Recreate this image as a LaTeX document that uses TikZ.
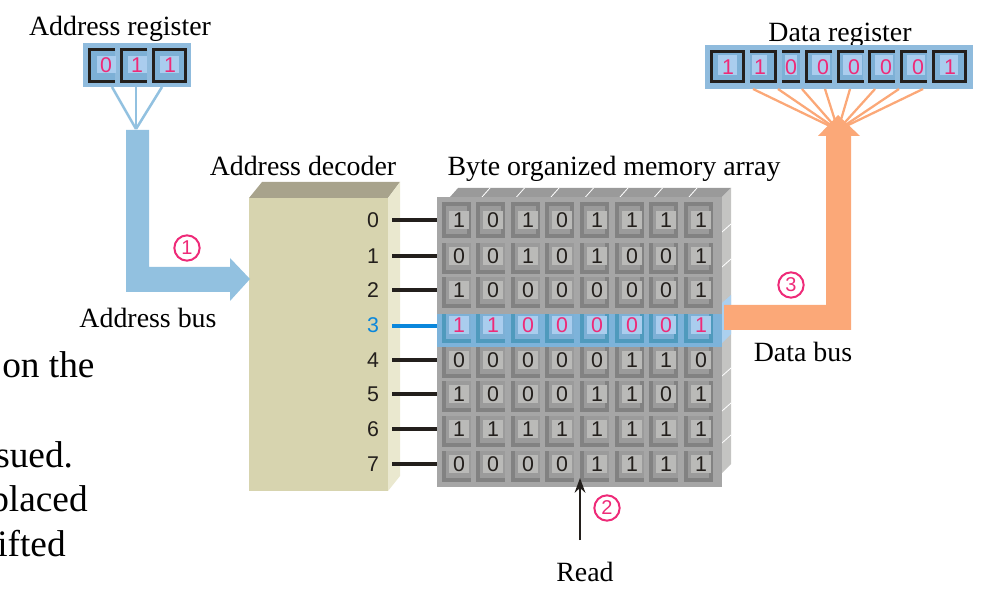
\documentclass[tikz,border=0pt]{standalone}
\usepackage{fontspec}
\setmainfont{Liberation Serif}
\newfontfamily\digitfont{Liberation Sans}
\usetikzlibrary{arrows.meta}
\definecolor{busblue}{HTML}{92C1E0}
\definecolor{regblue}{HTML}{8FBBDD}
\definecolor{regring}{HTML}{7DB0D6}
\definecolor{regcore}{HTML}{AACDEE}
\definecolor{busorange}{HTML}{FBA878}
\definecolor{pinkmark}{HTML}{EE2A78}
\definecolor{decfront}{HTML}{D7D4AF}
\definecolor{dectop}{HTML}{A8A38C}
\definecolor{decside}{HTML}{EAE8CF}
\definecolor{gridbase}{HTML}{A6A6A6}
\definecolor{griddark}{HTML}{828282}
\definecolor{gridring}{HTML}{9B9B9B}
\definecolor{gridcore}{HTML}{BABAB8}
\definecolor{gridside}{HTML}{C4C4C2}
\definecolor{gridtop}{HTML}{9A9A9A}
\definecolor{rowblue}{HTML}{7DB3DA}
\definecolor{rowdark}{HTML}{4F9ABD}
\definecolor{sideblue}{HTML}{ABD0EF}
\definecolor{inkblack}{HTML}{231F1C}
\definecolor{wireblue}{HTML}{0A87DC}
\tikzset{
  caption/.style={font=\fontsize{20.9pt}{24pt}\selectfont,text=black,inner sep=0pt,anchor=base},
  bodytext/.style={font=\fontsize{28pt}{32pt}\selectfont,text=black,inner sep=0pt,anchor=base west},
  bit/.style={font=\digitfont\fontsize{16pt}{18pt}\selectfont,text=inkblack,inner sep=0pt},
  hotbit/.style={bit,text=pinkmark},
  rowlabel/.style={font=\digitfont\fontsize{16pt}{18pt}\selectfont,text=inkblack,inner sep=0pt},
  wire/.style={draw=inkblack,line width=2.6pt},
  stepmark/.style={circle,draw=pinkmark,line width=1.5pt,minimum size=19pt,inner sep=0pt,text=pinkmark,font=\digitfont\fontsize{15pt}{16pt}\selectfont},
  frameline/.style={draw=inkblack,line width=2.5pt,line cap=butt},
}
\newcommand{\cellbox}[8]{% cx, cy, frame top, ring top, ring right, dark, ring, core
  \fill[#6] (#1-17,#2+#3) rectangle (#1+12,#2+18);
  \fill[#7] (#1-13,#2+#4) rectangle (#1+#5,#2+14);
  \fill[#8] (#1-10,#2-9) rectangle (#1+10,#2+9);
}
\begin{document}
\begin{tikzpicture}[x=0.75pt,y=-0.75pt]
\useasboundingbox (0,0) rectangle (989,595);
% body text fragments
\node[bodytext] (t1) at (2,378) {on the};
\node[bodytext] (t2) at (-5,467) {sued.};
\node[bodytext] (t3) at (-10,511) {placed};
\node[bodytext] (t4) at (-3,556) {ifted};
% captions
\node[caption] (areg) at (120,36) {Address register};
\node[caption] (dreg) at (840,42) {Data register};
\node[caption] (adec) at (303,176) {Address decoder};
\node[caption] (bmem) at (614,176) {Byte organized memory array};
\node[caption] (abus) at (148,328) {Address bus};
\node[caption] (dbus) at (803,362) {Data bus};
\node[caption] (rd) at (585,581) {Read};
% decoder
\fill[dectop] (249,198) -- (262,182) -- (400,182) -- (388,198) -- cycle;
\fill[decside] (388,198) -- (400,182) -- (400,476) -- (388,491) -- cycle;
\fill[decfront] (249,198) rectangle (388,491);
% grid
\fill[gridtop] (450,197) -- (458,188) -- (731,188) -- (722,197) -- cycle;
\foreach \x in {482,516.5,551,585.5,620,654.5,689}
  \draw[white,line width=0.6pt] (\x,197) -- (\x+8,188);
\fill[gridside] (722,197) -- (731,188) -- (731,464) -- (722,473) -- cycle;
\foreach \y in {224,259,368,403,435}
  \draw[white,line width=0.6pt] (722,\y+8) -- (731,\y);
\fill[gridbase] (437,197) rectangle (722,487);
\fill[sideblue] (722,303) -- (731,295) -- (731,334) -- (722,343) -- cycle;
\fill[rowblue] (437,314) rectangle (722,347);
\foreach \r/\yy/\bits in {0/220/{1,0,1,0,1,1,1,1},1/256/{0,0,1,0,1,0,0,1},2/290/{1,0,0,0,0,0,0,1},3/325/{1,1,0,0,0,0,0,1},4/360/{0,0,0,0,0,1,1,0},5/394/{1,0,0,0,1,1,0,1},6/429/{1,1,1,1,1,1,1,1},7/464/{0,0,0,0,1,1,1,1}}{
  \foreach \xx [count=\c] in {459,493,528,562,597,632,666,701}{
    \pgfmathtruncatemacro{\rr}{(\r==0 || (\c>4 && \r<6) || \c==8) ? 8 : 12}
    \ifnum\r=0
      \cellbox{\xx}{\yy}{-18}{-14}{\rr}{griddark}{gridring}{gridcore}
    \else\ifnum\r=3
      \cellbox{\xx}{\yy}{-11}{-11}{\rr}{rowdark}{regring}{regcore}
    \else
      \cellbox{\xx}{\yy}{-13}{-13}{\rr}{griddark}{gridring}{gridcore}
    \fi\fi
  }
  \foreach \b [count=\c] in \bits {
    \pgfmathsetmacro{\xpos}{{459,493,528,562,597,632,666,701}[\c-1]}
    \ifnum\r=3
      \node[hotbit] (m\r-\c) at (\xpos,\yy) {\b};
    \else
      \node[bit] (m\r-\c) at (\xpos,\yy) {\b};
    \fi
  }
}
% decoder labels and word lines
\foreach \r/\yy in {0/220,1/256,2/290,4/360,5/394,6/429,7/464}{
  \node[rowlabel] (d\r) at (373,\yy) {\r};
  \coordinate (ds\r) at (392,\yy);
  \coordinate (de\r) at (437,\yy);
  \draw[wire] (ds\r) -- (de\r);
}
\node[rowlabel,text=wireblue] (d3) at (373,325) {3};
\coordinate (ds3) at (392,326);
\coordinate (de3) at (437,326);
\draw[draw=wireblue,line width=2.6pt] (ds3) -- (de3);
% address register
\fill[regblue] (83,43) rectangle (191,87);
\foreach \x/\xe in {88/115,120/147,152/187}{
  \fill[regring] (\x,48) rectangle (\xe,83);
}
\foreach \x in {97,128,160}{
  \fill[regcore] (\x,56) rectangle (\x+19,73);
}
\draw[frameline] (115,49.7) -| (89.7,81.5) -- (115,81.5);
\draw[frameline] (147,49.7) -| (121.7,81.5) -- (147,81.5);
\draw[frameline] (153.7,49.7) rectangle (185.5,81.5);
\node[hotbit] (a1) at (106,65) {0};
\node[hotbit] (a2) at (137,65) {1};
\node[hotbit] (a3) at (170,65) {1};
% data register
\fill[regblue] (705,45) rectangle (973,89);
\foreach \x/\xe in {710/745,750/777,782/800,805/832,837/863,868/895,900/927,932/967}{
  \fill[regring] (\x,50) rectangle (\xe,83);
}
\foreach \x/\xe in {718/737,752/767,785/797,812/830,843/862,875/893,907/925,940/958}{
  \fill[regcore] (\x,55) rectangle (\xe,75);
}
\draw[frameline] (711.7,51.7) rectangle (743.3,81.7);
\draw[frameline] (750,51.7) -- (775.3,51.7) |- (750,81.7);
\draw[frameline] (782,51.7) -- (800,51.7);
\draw[frameline] (782,81.7) -- (800,81.7);
\foreach \x in {805,837,868,900}{
  \draw[frameline] (\x+27,51.7) -| (\x+1.7,81.7) -- (\x+27,81.7);
}
\draw[frameline] (933.7,51.7) rectangle (965.3,81.7);
\foreach \x/\b [count=\c] in {728/1,760/1,791/0,823/0,854/0,886/0,918/0,950/1}{
  \node[hotbit] (r\c) at (\x,67) {\b};
}
% address fan
\coordinate (afan) at (136,129);
\coordinate (af1) at (112,87);
\coordinate (af2) at (136,87);
\coordinate (af3) at (162,87);
\foreach \n in {af1,af2,af3} \draw[busblue,line width=1.9pt] (\n) -- (afan);
% address bus
\fill[busblue] (126,130) -- (149,130) -- (149,267) -- (230,267) -- (230,258) -- (250,279) -- (230,301) -- (230,292) -- (126,292) -- cycle;
% data fan
\coordinate (dfan) at (838,130);
\foreach \x [count=\c] in {753,778,802,825,850,875,899,923}{
  \coordinate (df\c) at (\x,89);
  \draw[busorange,line width=1.7pt] (df\c) -- (dfan);
}
% data bus
\fill[busorange] (724,305) -- (826,305) -- (826,136) -- (818,136) -- (838,115) -- (860,136) -- (851,136) -- (851,330) -- (724,330) -- cycle;
% markers
\node[stepmark] (s1) at (187,248) {1};
\node[stepmark] (s3) at (791,285) {3};
\node[stepmark] (s2) at (607,508) {2};
% read arrow
\coordinate (rs) at (580,540);
\coordinate (re) at (580,478);
\draw[draw=inkblack,line width=2.2pt,-{Stealth[length=11pt,width=8pt]}] (rs) -- (re);
\end{tikzpicture}
\end{document}
